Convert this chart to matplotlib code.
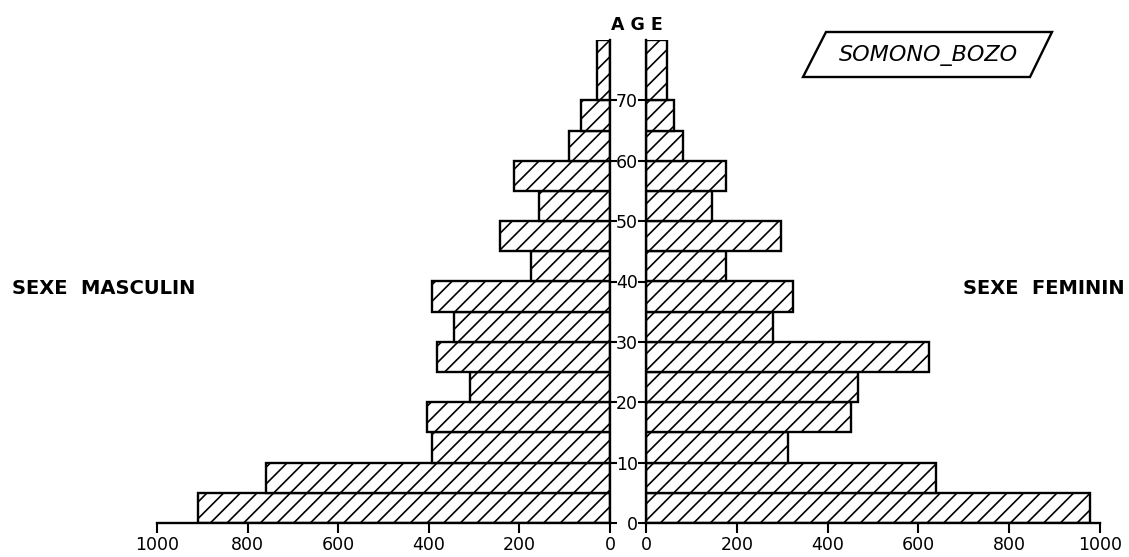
import numpy as np
import matplotlib
matplotlib.use("Agg")
from matplotlib import pyplot as plt
from matplotlib.patches import Polygon

# age groups (last group 70 and over drawn up to 80)
age_lo = [0, 5, 10, 15, 20, 25, 30, 35, 40, 45, 50, 55, 60, 65, 70]
age_hi = [5, 10, 15, 20, 25, 30, 35, 40, 45, 50, 55, 60, 65, 70, 80]
males = [910, 760, 392, 403, 308, 383, 345, 394, 175, 243, 157, 212, 91, 64, 29]
females = [978, 639, 313, 452, 467, 623, 280, 324, 176, 297, 145, 176, 81, 62, 46]
x_ticks = [0, 200, 400, 600, 800, 1000]
age_ticks = [0, 10, 20, 30, 40, 50, 60, 70]

plt.rcParams['font.family'] = 'DejaVu Sans'
plt.rcParams['hatch.linewidth'] = 1.2
plt.rcParams['hatch.color'] = 'black'

W, H = 1129, 557
fig = plt.figure(figsize=(W / 100, H / 100), dpi=100)

bot = 1 - 523 / H
hgt = (523 - 40) / H
axl = fig.add_axes([157 / W, bot, (610 - 157) / W, hgt])
axr = fig.add_axes([646 / W, bot, (1100 - 646) / W, hgt])

lo = np.array(age_lo)
hi = np.array(age_hi)
for ax, vals in ((axl, males), (axr, females)):
    ax.barh(lo, vals, height=hi - lo, align='edge', color='white',
            edgecolor='black', linewidth=1.7, hatch='//')
    ax.set_ylim(0, 80)
    ax.set_xlim(0, 1000)
    ax.set_xticks(x_ticks)
    ax.tick_params(axis='x', direction='out', length=7, width=1.5,
                   labelsize=12.5, pad=2)
    ax.spines['top'].set_visible(False)
    ax.spines['bottom'].set_linewidth(1.7)
    ax.spines['bottom'].set_bounds(0, 1000)

axl.invert_xaxis()
axl.spines['left'].set_visible(False)
axl.spines['right'].set_linewidth(1.7)
axl.yaxis.tick_right()
axl.set_yticks(age_ticks)
axl.tick_params(axis='y', direction='out', length=5, width=1.5, labelright=False)

axr.spines['right'].set_visible(False)
axr.spines['left'].set_linewidth(1.7)
axr.set_yticks(age_ticks)
axr.set_yticklabels([str(a) for a in age_ticks])
axr.tick_params(axis='y', direction='out', length=6, width=1.5, labelsize=12.5, pad=0)

fig.text(637 / W, 1 - 25 / H, "A G E", ha='center', va='center', fontsize=12.5,
         fontweight='bold')
fig.text(12 / W, 1 - 289 / H, "SEXE  MASCULIN", ha='left', va='center',
         fontsize=14, fontweight='bold')
fig.text(1125 / W, 1 - 289 / H, "SEXE  FEMININ", ha='right', va='center',
         fontsize=14, fontweight='bold')

# slanted frame around the village name
box = [(826, 32), (1052, 32), (1030, 77), (803, 77)]
fig.patches.append(Polygon([(x / W, 1 - y / H) for x, y in box], closed=True,
                           fill=False, edgecolor='black', linewidth=1.7,
                           transform=fig.transFigure))
fig.text(928 / W, 1 - 55 / H, "SOMONO_BOZO", ha='center', va='center',
         fontsize=16, style='italic')

fig.savefig("out.png", dpi=100)
